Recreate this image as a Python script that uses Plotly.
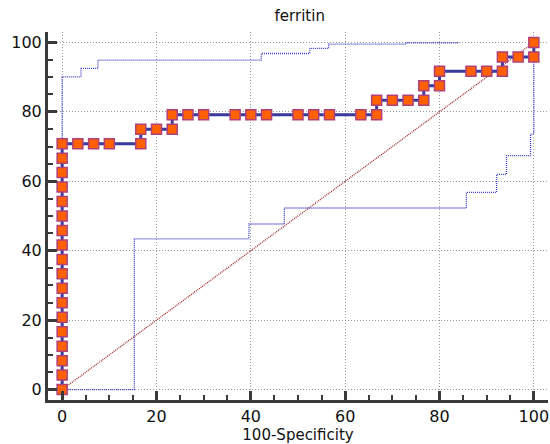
import plotly.graph_objects as go

# ROC curve points (100-Specificity, Sensitivity)
roc_x = [0]*18 + [3.33, 6.67, 10, 16.67,
         16.67, 20, 23.33,
         23.33, 26.67, 30, 36.67, 40, 43.33, 50, 53.33, 56.67, 63.33, 66.67,
         66.67, 70, 73.33, 76.67,
         76.67, 80,
         80, 86.67, 90, 93.33,
         93.33, 96.67, 100,
         100]
roc_y = [0, 4.17, 8.33, 12.5, 16.67, 20.83, 25, 29.17, 33.33, 37.5, 41.67, 45.83,
         50, 54.17, 58.33, 62.5, 66.67, 70.83,
         70.83, 70.83, 70.83, 70.83,
         75, 75, 75,
         79.17, 79.17, 79.17, 79.17, 79.17, 79.17, 79.17, 79.17, 79.17, 79.17, 79.17,
         83.33, 83.33, 83.33, 83.33,
         87.5, 87.5,
         91.67, 91.67, 91.67, 91.67,
         95.83, 95.83, 95.83,
         100]

# Upper confidence band
upper_x = [0, 0, 4.0, 4.0, 7.6, 7.6, 42.2, 42.2, 52.5, 52.5, 56.5, 56.5, 72.9, 72.9, 84.2]
upper_y = [70.83, 90.1, 90.1, 92.5, 92.5, 94.9, 94.9, 96.8, 96.8, 98.3, 98.3, 99.5, 99.5, 99.9, 99.9]

# Lower confidence band
lower_x = [0, 15.3, 15.3, 39.6, 39.6, 47.1, 47.1, 85.7, 85.7, 92.1, 92.1, 94.2, 94.2, 99.3, 99.3, 100, 100]
lower_y = [0, 0, 43.4, 43.4, 47.7, 47.7, 52.3, 52.3, 56.8, 56.8, 62.0, 62.0, 67.4, 67.4, 73.6, 73.6, 100]

diag_x = [0, 100]
diag_y = [0, 100]

ticks = [0, 20, 40, 60, 80, 100]

fig = go.Figure()
fig.add_trace(go.Scatter(x=diag_x, y=diag_y, mode="lines",
                         line=dict(color="#A02828", width=1.3, dash="1px,1px"), hoverinfo="skip"))
fig.add_trace(go.Scatter(x=upper_x, y=upper_y, mode="lines",
                         line=dict(color="#3C3CC8", width=1.3, dash="1px,1px")))
fig.add_trace(go.Scatter(x=lower_x, y=lower_y, mode="lines",
                         line=dict(color="#3C3CC8", width=1.3, dash="1px,1px")))
fig.add_trace(go.Scatter(x=roc_x, y=roc_y, mode="lines+markers",
                         line=dict(color="#3A3A9C", width=3),
                         marker=dict(symbol="square", size=10, color="#FF6000",
                                     line=dict(color="#B0407A", width=1.5))))

axis_common = dict(
    range=[-3, 103], tickvals=ticks, showline=True, linewidth=3, linecolor="#3A3A3A",
    ticks="inside", ticklen=9, tickwidth=3, tickcolor="#3A3A3A",
    minor=dict(dtick=5, ticks="inside", ticklen=5, tickwidth=1.5, tickcolor="#3A3A3A", showgrid=False),
    showgrid=True, gridcolor="#999999", gridwidth=1, griddash="1px,2px",
    zeroline=False, automargin=False,
    tickfont=dict(family="DejaVu Sans", size=16, color="#111"),
)

fig.update_layout(
    width=550, height=444,
    margin=dict(l=48, r=2, t=32, b=44),
    paper_bgcolor="white", plot_bgcolor="white",
    showlegend=False,
    title=dict(text="ferritin", x=0.545, xanchor="center", y=0.965, yanchor="middle",
               font=dict(family="DejaVu Sans", size=15, color="#111")),
    xaxis=dict(**axis_common, title=dict(text="100-Specificity", standoff=4,
                                         font=dict(family="DejaVu Sans", size=15, color="#111"))),
    yaxis=dict(**axis_common),
)

fig.write_html("out.html", config={"displayModeBar": False},
               post_script="document.body.style.margin='0';document.body.style.overflow='hidden';")
